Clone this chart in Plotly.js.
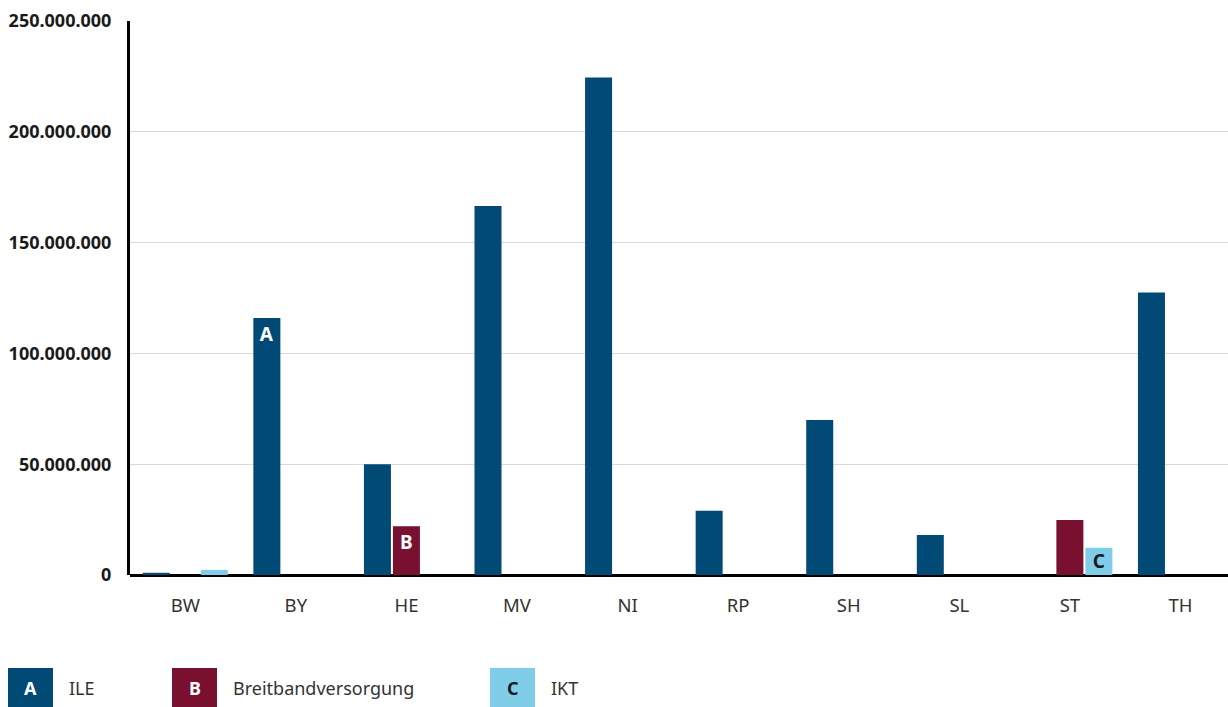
<!DOCTYPE html>
<html>
<head>
<meta charset="utf-8">
<script src="https://cdn.plot.ly/plotly-3.0.1.min.js"></script>
<style>
  html, body { margin:0; padding:0; background:#fff; }
  #chart { width:1228px; height:707px; }
</style>
</head>
<body>
<div id="chart"></div>
<script>
(function(){
  // Data
  const states = ['BW','BY','HE','MV','NI','RP','SH','SL','ST','TH'];
  const ile        = [1000000, 116000000, 50000000, 166500000, 224500000, 29000000, 70000000, 18000000, 0, 127500000];
  const breitband  = [0, 0, 22000000, 0, 0, 0, 0, 0, 24800000, 0];
  const ikt        = [2300000, 0, 0, 0, 0, 0, 0, 0, 12300000, 0];
  const ileText       = ['', 'A', '', '', '', '', '', '', '', ''];
  const breitbandText = ['', '', 'B', '', '', '', '', '', '', ''];
  const iktText       = ['', '', '', '', '', '', '', '', 'C', ''];

  const seriesNames = ['ILE', 'Breitbandversorgung', 'IKT'];
  const seriesKeys  = ['A', 'B', 'C'];
  const colors = ['#004a75', '#7a1030', '#80cdea'];
  const keyFont = ['#ffffff', '#ffffff', '#1a1a1a'];
  const yTicks = [0, 50000000, 100000000, 150000000, 200000000, 250000000];

  const FONT = '"Noto Sans", "Open Sans", sans-serif';

  function trace(vals, txt, i, anchor){
    return {
      type:'bar', x:states, y:vals, name:seriesNames[i],
      marker:{color:colors[i]},
      text:txt, textposition:'inside', insidetextanchor:anchor,
      constraintext:'none', cliponaxis:false,
      textfont:{family:FONT, size:19, color:keyFont[i], weight:'bold'},
      hoverinfo:'x+y'
    };
  }

  const data = [
    trace(ile, ileText, 0, 'end'),
    trace(breitband, breitbandText, 1, 'end'),
    trace(ikt, iktText, 2, 'middle')
  ];

  // plot area in pixels, used for legend placement in paper coords
  const L = 130, R = 0, T = 21, B = 132, W = 1228, H = 707;
  const pw = W - L - R, ph = H - T - B;
  const px = x => (x - L) / pw;
  const py = y => (H - B - y) / ph;

  const shapes = [], annotations = [];
  const legX = [8, 172, 490];
  const boxW = 45, boxTop = 668, boxBot = 707;
  for(let i=0;i<3;i++){
    shapes.push({type:'rect', xref:'paper', yref:'paper',
      x0:px(legX[i]), x1:px(legX[i]+boxW), y0:py(boxBot), y1:py(boxTop),
      fillcolor:colors[i], line:{width:0}});
    annotations.push({xref:'paper', yref:'paper', x:px(legX[i]+boxW/2), y:py((boxTop+boxBot)/2),
      text:'<b>'+seriesKeys[i]+'</b>', showarrow:false, xanchor:'center', yanchor:'middle',
      font:{family:FONT, size:18, color:keyFont[i]}});
    annotations.push({xref:'paper', yref:'paper', x:px(legX[i]+boxW+14), y:py((boxTop+boxBot)/2),
      text:seriesNames[i], showarrow:false, xanchor:'left', yanchor:'middle',
      font:{family:FONT, size:18, color:'#333333'}});
  }

  const layout = {
    width:W, height:H,
    margin:{l:L, r:R, t:T, b:B},
    paper_bgcolor:'#fff', plot_bgcolor:'#fff',
    font:{family:FONT, color:'#333'},
    separators:',.',
    barmode:'group', bargap:0.213, bargroupgap:0.069,
    showlegend:false,
    xaxis:{
      type:'category', range:[-0.5, 9.43],
      showgrid:false, showline:false, zeroline:false,
      ticks:'', ticklabelstandoff:17,
      tickfont:{family:FONT, size:18.5, color:'#333333'}
    },
    yaxis:{
      range:[0, 250000000], tickvals:yTicks, tickformat:',d',
      showgrid:true, gridcolor:'#d9d9d9', gridwidth:1,
      showline:true, linecolor:'#000', linewidth:3,
      zeroline:true, zerolinecolor:'#000', zerolinewidth:3,
      ticks:'', ticklabelstandoff:12,
      tickfont:{family:FONT, size:18, color:'#1a1a1a', weight:'bold'}
    },
    shapes:shapes,
    annotations:annotations
  };

  Plotly.newPlot('chart', data, layout, {displayModeBar:false, staticPlot:true});
})();
</script>
</body>
</html>
